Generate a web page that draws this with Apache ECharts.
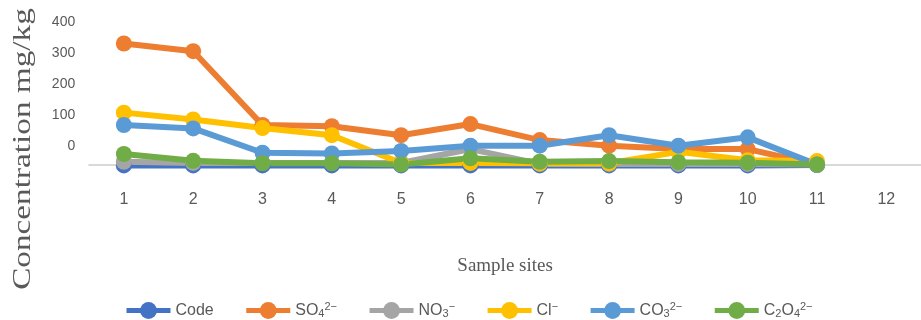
<!DOCTYPE html>
<html>
<head>
<meta charset="utf-8">
<script src="https://cdn.jsdelivr.net/npm/echarts@6/dist/echarts.min.js"></script>
<style>
  html, body { margin: 0; padding: 0; background: #ffffff; }
  #chart { width: 921px; height: 320px; }
</style>
</head>
<body>
<div id="chart"></div>
<script>
// Sampling sites along the horizontal axis
const sites = ['1', '2', '3', '4', '5', '6', '7', '8', '9', '10', '11', '12'];

// Ion concentrations per site (mg/kg)
const code = [-63, -63, -63, -63, -63, -63, -63, -63, -63, -63, -62];
const so4  = [332, 307, 68, 64, 35, 71, 19, 1, -10, -10, -60];
const no3  = [-51, -55, -55, -55, -55, -10, -58, -58, -58, -58, -60];
const cl   = [108, 86, 58, 35, -55, -55, -56, -56, -19, -46, -49];
const co3  = [68, 57, -22, -24, -16, 1, 1, 35, 1, 28, -60];
const c2o4 = [-26, -48, -56, -56, -60, -40, -51, -49, -53, -54, -60];

// Concentration axis tick labels
const yTicks = [0, 100, 200, 300, 400];

const seriesDefs = [
  { key: 'Code', data: code, color: '#4472C4' },
  { key: 'SO4',  data: so4,  color: '#ED7D31' },
  { key: 'NO3',  data: no3,  color: '#A5A5A5' },
  { key: 'Cl',   data: cl,   color: '#FFC000' },
  { key: 'CO3',  data: co3,  color: '#5B9BD5' },
  { key: 'C2O4', data: c2o4, color: '#70AD47' }
];

// Chemical formulae with sub/superscripts for the legend
const legendText = {
  'Code': 'Code',
  'SO4':  'SO{sub|4}{sup|2−}',
  'NO3':  'NO{sub|3}{sup|−}',
  'Cl':   'Cl{sup|−}',
  'CO3':  'CO{sub|3}{sup|2−}',
  'C2O4': 'C{sub|2}O{sub|4}{sup|2−}'
};

const chart = echarts.init(document.getElementById('chart'), null, { renderer: 'canvas' });

chart.setOption({
  animation: false,
  backgroundColor: '#ffffff',
  grid: { left: 89.2, right: -4.6, top: 22.5, bottom: 155.5, containLabel: false },
  xAxis: {
    type: 'category',
    data: sites,
    boundaryGap: true,
    axisLine: { onZero: false, lineStyle: { color: '#d9d9d9', width: 2 } },
    axisTick: { show: false },
    axisLabel: { color: '#595959', fontSize: 16, fontFamily: 'Liberation Sans', margin: 27 },
    name: 'Sample sites',
    nameLocation: 'middle',
    nameGap: 92,
    nameTextStyle: { color: '#595959', fontSize: 19, fontFamily: 'Liberation Serif' }
  },
  yAxis: {
    type: 'value',
    min: -60,
    max: 400,
    axisLine: { show: false },
    axisTick: { show: false },
    splitLine: { show: false },
    axisLabel: {
      customValues: yTicks,
      color: '#595959',
      fontSize: 14,
      fontFamily: 'Liberation Sans',
      margin: 14
    }
  },
  legend: {
    left: 124,
    top: 301,
    padding: 0,
    itemWidth: 44,
    itemHeight: 21,
    itemGap: 30,
    data: seriesDefs.map(s => s.key),
    formatter: name => legendText[name],
    lineStyle: { width: 5 },
    textStyle: {
      color: '#595959',
      fontSize: 16,
      fontFamily: 'Liberation Sans',
      rich: {
        sub: { fontSize: 11, color: '#595959', fontFamily: 'Liberation Sans', padding: [7, 0, 0, 0] },
        sup: { fontSize: 11, color: '#595959', fontFamily: 'Liberation Sans', padding: [0, 0, 8, 0] }
      }
    }
  },
  graphic: [{
    type: 'text',
    x: 23.5,
    y: 149,
    rotation: Math.PI / 2,
    scaleX: 1.33,
    style: {
      text: 'Concentration mg/kg',
      fill: '#595959',
      font: '25px "Liberation Serif"',
      align: 'center',
      verticalAlign: 'middle'
    }
  }],
  series: seriesDefs.map(s => ({
    name: s.key,
    type: 'line',
    data: s.data,
    clip: false,
    symbol: 'circle',
    symbolSize: 16,
    itemStyle: { color: s.color },
    lineStyle: { color: s.color, width: 6 },
    emphasis: { disabled: true }
  }))
});
</script>
</body>
</html>
